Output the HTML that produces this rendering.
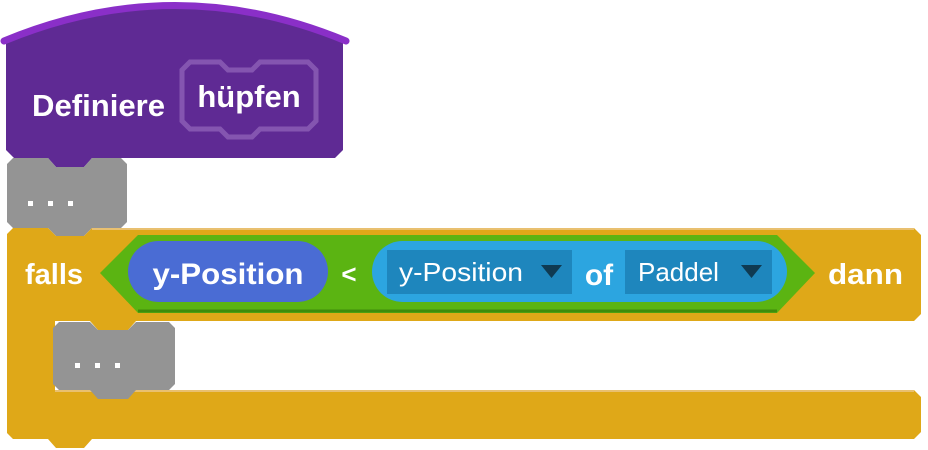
<!DOCTYPE html>
<html><head><meta charset="utf-8"><style>
html,body{margin:0;padding:0;background:#fff;width:928px;height:450px;overflow:hidden}
text{font-family:"Liberation Sans",sans-serif;fill:#fff}
</style></head><body>
<svg width="928" height="450" viewBox="0 0 928 450" xmlns="http://www.w3.org/2000/svg">
<!-- purple hat -->
<path d="M4,40 Q175,-30 346,40 L343,40 L343,150 L335,158 L92,158 L84,167 L56,167 L48,158 L14,158 L6,150 L6,40 Z" fill="#5f2a94"/>
<path d="M4,41 Q175,-30 346,41" fill="none" stroke="#8a2fc8" stroke-width="7" stroke-linecap="round"/>
<path d="M182,70 L190,62 L220,62 L228,70 L252,70 L260,62 L308,62 L316,70 L316,121 L308,129 L260,129 L252,137 L228,137 L220,129 L190,129 L182,121 Z" fill="none" stroke="#8455b0" stroke-width="5"/>
<text x="249" y="107" font-size="31" font-weight="bold" text-anchor="middle">hüpfen</text>
<text x="32" y="116" font-size="30.5" font-weight="bold" textLength="133" lengthAdjust="spacingAndGlyphs">Definiere</text>
<!-- gray block 1 -->
<path d="M13,158 L48,158 L56,167 L84,167 L92,158 L121,158 L127,164 L127,222 L121,228 L92,228 L84,236 L56,236 L48,228 L13,228 L7,222 L7,164 Z" fill="#949494"/>
<rect x="28" y="201" width="5" height="5" fill="#fff"/><rect x="48" y="201" width="5" height="5" fill="#fff"/><rect x="68" y="201" width="5" height="5" fill="#fff"/>
<!-- orange C block -->
<path d="M13,228 L48,228 L56,236 L84,236 L92,228 L914,228 L921,235 L921,314 L914,321 L136,321 L128,330 L98,330 L90,321 L55,321 L55,390 L914,390 L921,397 L921,432 L914,439 L92,439 L84,448 L56,448 L48,439 L13,439 L7,433 L7,234 Z" fill="#dfa818"/>
<path d="M92,229 L914,229" stroke="#e9c070" stroke-width="2"/>
<path d="M55,391 L914,391" stroke="#e9c070" stroke-width="2"/>
<!-- gray block 2 -->
<path d="M59,322 L90,322 L98,330 L128,330 L136,322 L169,322 L175,328 L175,384 L169,390 L136,390 L128,399 L98,399 L90,390 L59,390 L53,384 L53,328 Z" fill="#949494"/>
<rect x="75" y="363" width="5" height="5" fill="#fff"/><rect x="95" y="363" width="5" height="5" fill="#fff"/><rect x="115" y="363" width="5" height="5" fill="#fff"/>
<!-- green predicate -->
<path d="M100,273 L138,235 L777,235 L815,273 L777,313 L138,313 Z" fill="#5bb412"/>
<path d="M138,311 L777,311" stroke="#3f8c0c" stroke-width="3"/>
<!-- blue reporter -->
<rect x="128" y="241" width="200" height="61" rx="30.5" fill="#4a6cd4"/>
<text x="228" y="284" font-size="30" font-weight="bold" text-anchor="middle" textLength="151" lengthAdjust="spacingAndGlyphs">y-Position</text>
<text x="349" y="283" font-size="26" font-weight="bold" text-anchor="middle">&lt;</text>
<!-- light blue reporter -->
<rect x="372" y="241" width="415" height="61" rx="30.5" fill="#2ca5e0"/>
<rect x="387" y="250" width="185" height="44" fill="#1e86bd"/>
<rect x="625" y="250" width="147" height="44" fill="#1e86bd"/>
<text x="399" y="281" font-size="26" textLength="124" lengthAdjust="spacingAndGlyphs">y-Position</text>
<path d="M541,265 L562,265 L551.5,278 Z" fill="#0f3a52"/>
<text x="599" y="285" font-size="30" font-weight="bold" text-anchor="middle">of</text>
<text x="638" y="281" font-size="26">Paddel</text>
<path d="M741,265 L762,265 L751.5,278 Z" fill="#0f3a52"/>
<text x="25" y="284" font-size="29" font-weight="bold">falls</text>
<text x="828" y="284" font-size="29" font-weight="bold" textLength="75" lengthAdjust="spacingAndGlyphs">dann</text>
</svg>
</body></html>
